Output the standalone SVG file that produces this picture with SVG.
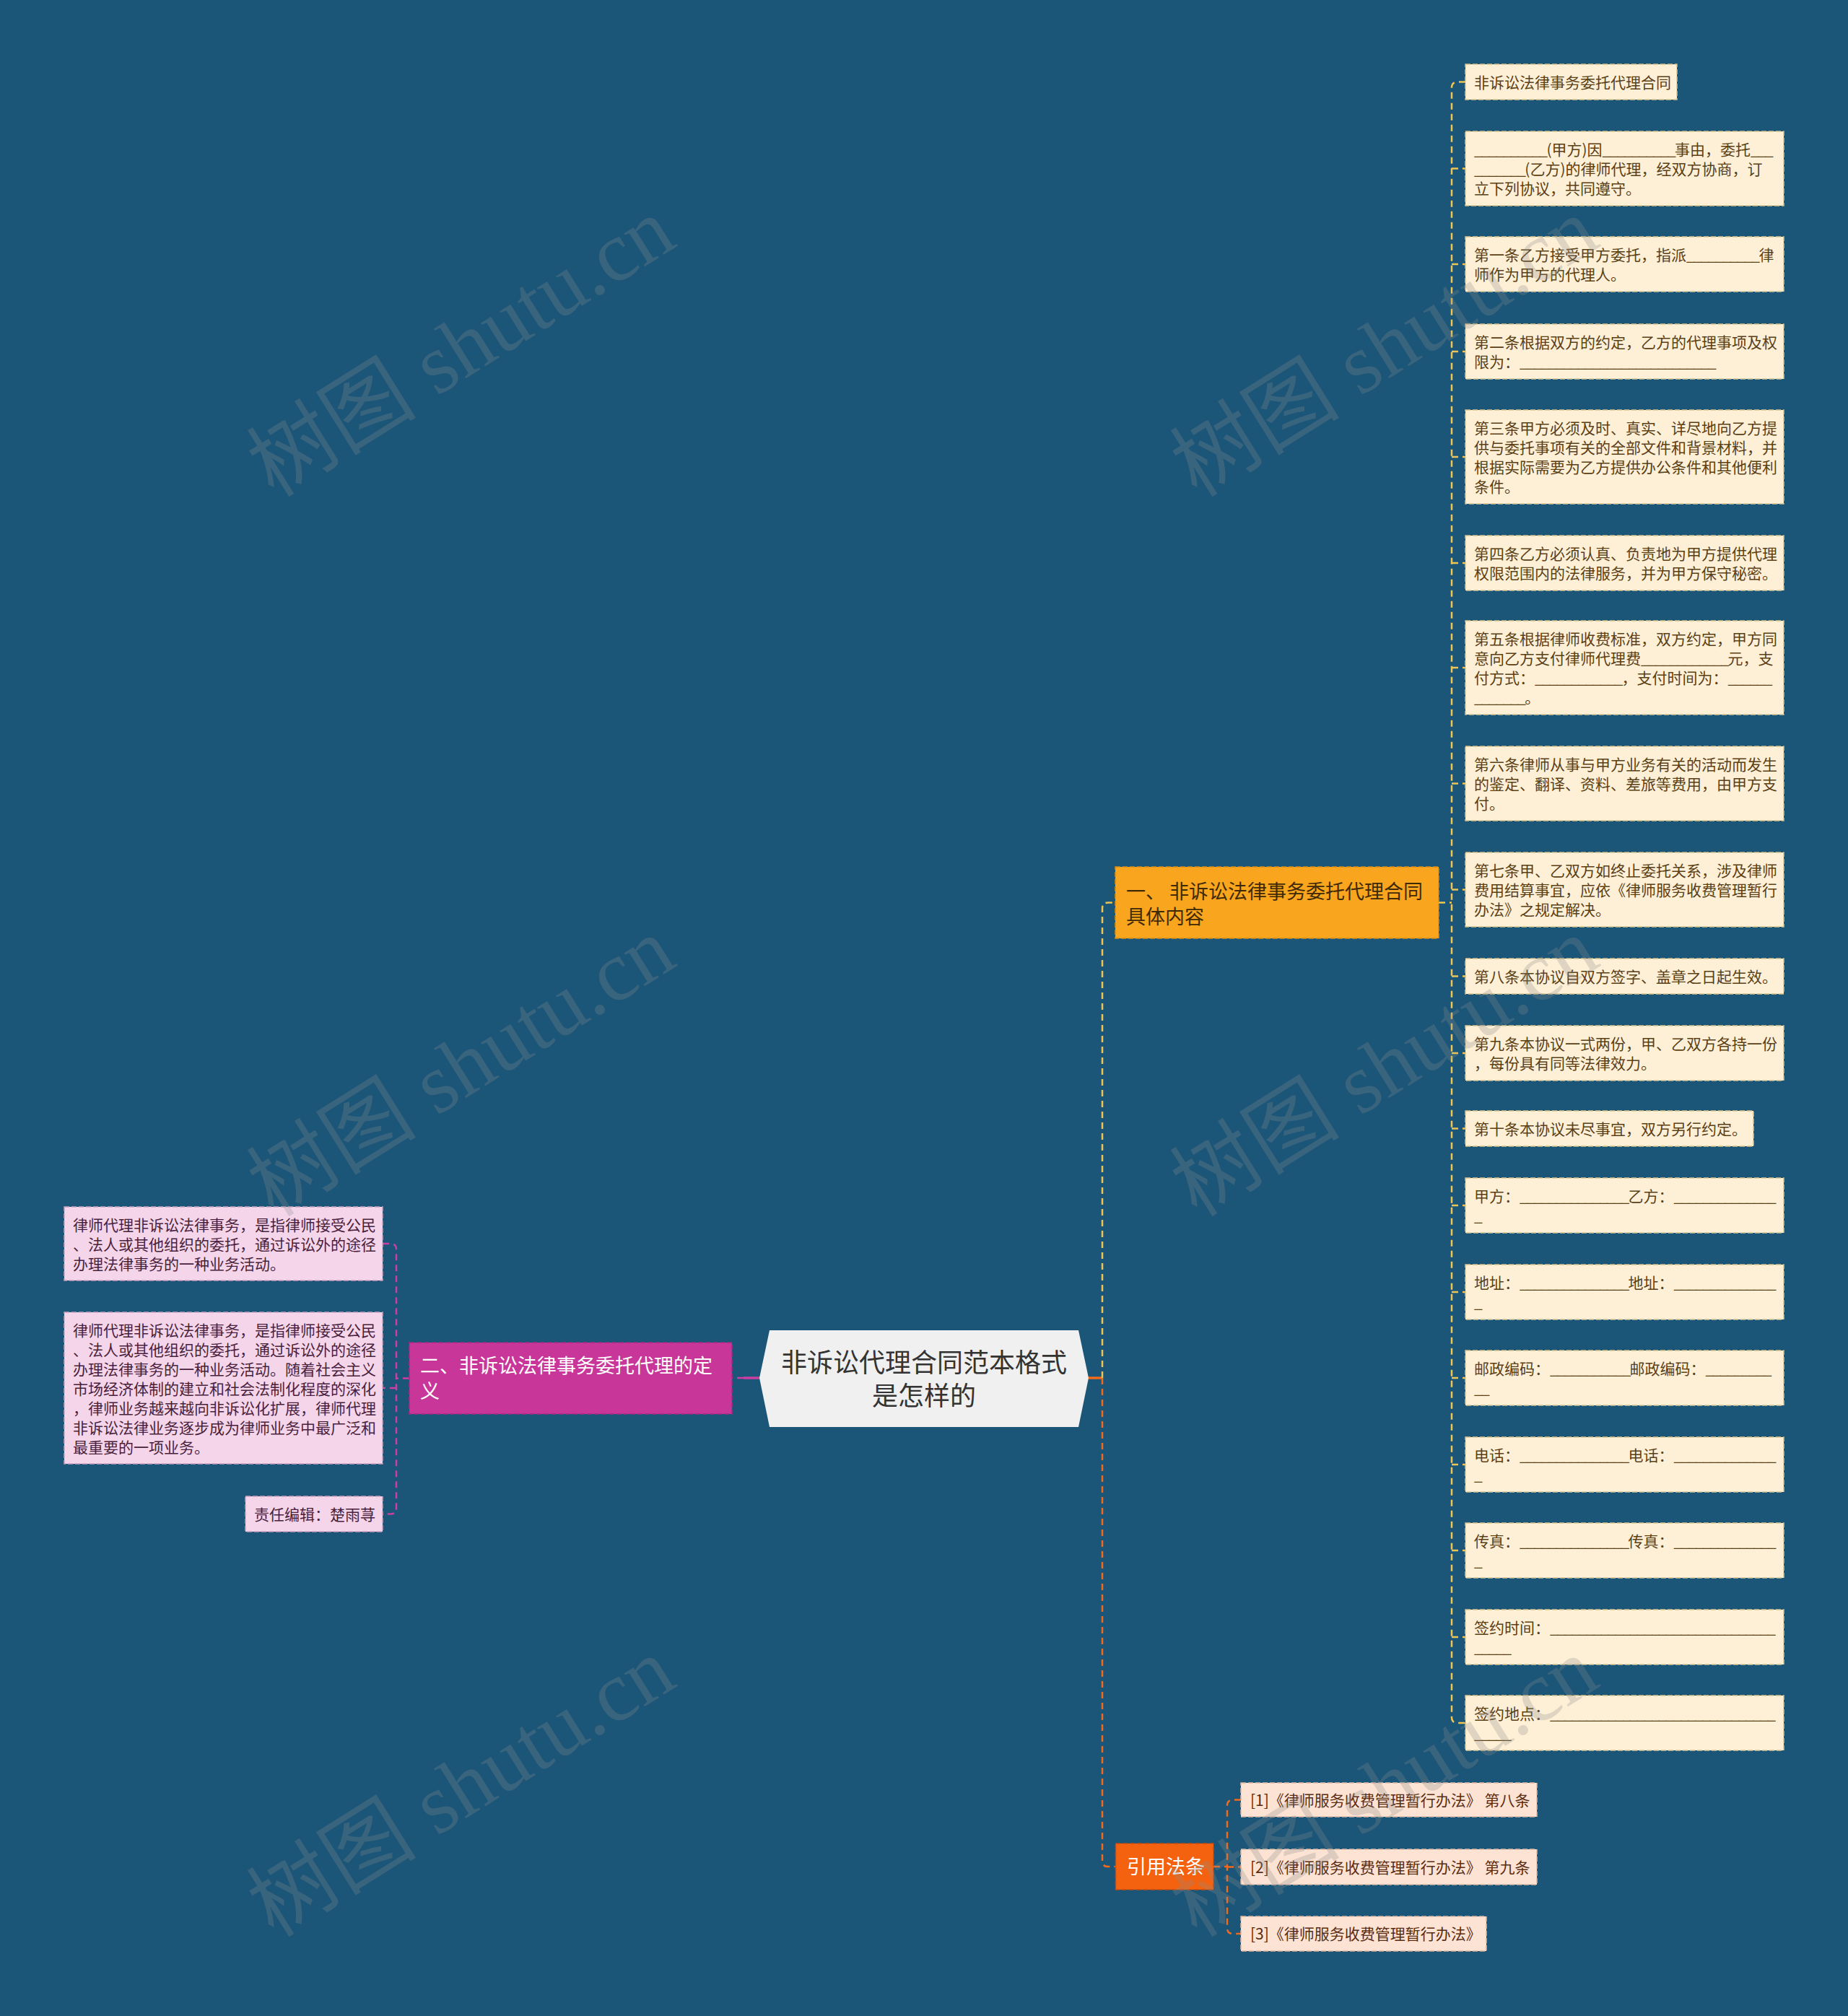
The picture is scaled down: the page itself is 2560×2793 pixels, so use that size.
<svg xmlns="http://www.w3.org/2000/svg" width="2560" height="2793" viewBox="0 0 2560 2793">
<style>
text{font-family:"Noto Sans CJK SC","Noto Sans",sans-serif}
.ly rect{fill:#fdf0d6;stroke:#d8c390;stroke-width:1.5;stroke-dasharray:7 3}
.ly text{font-size:21px;fill:#5b4016}
.lp rect{fill:#f5d5ea;stroke:#c9a1bf;stroke-width:1.5;stroke-dasharray:7 3}
.lp text{font-size:21px;fill:#4a1f3c}
.lo rect{fill:#fde3d3;stroke:#e0b7a0;stroke-width:1.5;stroke-dasharray:7 3}
.lo text{font-size:21px;fill:#5a2c12}
.u{letter-spacing:-1.7px}
.conn path{fill:none;stroke-width:2.5;stroke-dasharray:9 6}
.cg{stroke:#eec552}
.co{stroke:#f26a1b}
.cm{stroke:#cc3ea2}
.solid{stroke-dasharray:none !important;stroke-width:3.5 !important}
.wm{font-family:"Liberation Serif","Noto Sans CJK SC",serif;font-size:118px;fill:#8c8c8c;opacity:0.27}
</style>
<rect width="2560" height="2793" fill="#1b5578"/>

<g id="connectors" class="conn">
  <path class="co solid" d="M1508,1909 H1527"/>
  <path class="cg" d="M1527,1909 V1258.5 Q1527,1250.5 1535,1250.5 H1545"/>
  <path class="co" d="M1527,1909 V2578 Q1527,2586 1535,2586 H1545"/>
  <path class="cg" d="M1993,1250.5 H2011"/>
  <path class="cg" d="M2030,113.5 H2019 Q2011,113.5 2011,121.5 V2379 Q2011,2387 2019,2387 H2030"/>
  <path class="cg" d="M2011,233.5 H2030 M2011,366 H2030 M2011,487 H2030 M2011,633 H2030 M2011,780 H2030 M2011,925 H2030 M2011,1085.5 H2030 M2011,1232.5 H2030 M2011,1352.5 H2030 M2011,1459 H2030 M2011,1563.5 H2030 M2011,1670 H2030 M2011,1790 H2030 M2011,1909 H2030 M2011,2029 H2030 M2011,2148 H2030 M2011,2268 H2030"/>
  <path class="co" d="M1681,2586 H1700"/>
  <path class="co" d="M1719,2493.5 H1708 Q1700,2493.5 1700,2501.5 V2671 Q1700,2679 1708,2679 H1719 M1700,2586.5 H1719"/>
  <path class="cm solid" d="M1052,1909 H1030"/>
  <path class="cm" d="M1030,1909 H1014"/>
  <path class="cm" d="M567,1909.5 H549"/>
  <path class="cm" d="M530,1723 H541 Q549,1723 549,1731 V2089.5 Q549,2097.5 541,2097.5 H530 M549,1923 H530"/>
</g>

<g id="n-root">
  <polygon points="1052,1909 1066,1843 1494,1843 1508,1909 1494,1977 1066,1977" fill="#f0f0f0"/>
  <text text-anchor="middle" font-size="36" fill="#333333"><tspan x="1280" y="1900.7">非诉讼代理合同范本格式</tspan><tspan x="1280" y="1946.7">是怎样的</tspan></text>
</g>

<g id="n-b1">
  <rect x="1545" y="1201" width="448" height="99" fill="#f9a51d" stroke="#d98c14" stroke-width="1.5" stroke-dasharray="7 3"/>
  <text font-size="27" fill="#3f2a05"><tspan x="1560" y="1245">一、 非诉讼法律事务委托代理合同</tspan><tspan x="1560" y="1280">具体内容</tspan></text>
</g>

<g id="n-b2">
  <rect x="567" y="1860" width="447" height="99" fill="#c8369a" stroke="#a52a80" stroke-width="1.5" stroke-dasharray="7 3"/>
  <text font-size="27" fill="#ffffff"><tspan x="582" y="1902">二、非诉讼法律事务委托代理的定</tspan><tspan x="582" y="1937">义</tspan></text>
</g>

<g id="n-b3">
  <rect x="1545.5" y="2554" width="135.5" height="64" fill="#f5620f" stroke="#c84a0c" stroke-width="1.5" stroke-dasharray="7 3"/>
  <text x="1561" y="2596" font-size="27" fill="#ffffff">引用法条</text>
</g>

<g id="n-r1" class="ly"><rect x="2030" y="89" width="293" height="49"/><text><tspan x="2042" y="121.5">非诉讼法律事务委托代理合同</tspan></text></g>
<g id="n-r2" class="ly"><rect x="2030" y="182" width="441" height="103"/><text><tspan x="2042" y="214.5"><tspan class="u">__________</tspan>(甲方)因<tspan class="u">__________</tspan>事由，委托<tspan class="u">___</tspan></tspan><tspan x="2042" y="241.5"><tspan class="u">_______</tspan>(乙方)的律师代理，经双方协商，订</tspan><tspan x="2042" y="268.5">立下列协议，共同遵守。</tspan></text></g>
<g id="n-r3" class="ly"><rect x="2030" y="328" width="441" height="76"/><text><tspan x="2042" y="360.5">第一条乙方接受甲方委托，指派<tspan class="u">__________</tspan>律</tspan><tspan x="2042" y="387.5">师作为甲方的代理人。</tspan></text></g>
<g id="n-r4" class="ly"><rect x="2030" y="449" width="441" height="76"/><text><tspan x="2042" y="481.5">第二条根据双方的约定，乙方的代理事项及权</tspan><tspan x="2042" y="508.5">限为：<tspan class="u">___________________________</tspan></tspan></text></g>
<g id="n-r5" class="ly"><rect x="2030" y="568" width="441" height="130"/><text><tspan x="2042" y="600.5">第三条甲方必须及时、真实、详尽地向乙方提</tspan><tspan x="2042" y="627.5">供与委托事项有关的全部文件和背景材料，并</tspan><tspan x="2042" y="654.5">根据实际需要为乙方提供办公条件和其他便利</tspan><tspan x="2042" y="681.5">条件。</tspan></text></g>
<g id="n-r6" class="ly"><rect x="2030" y="742" width="441" height="76"/><text><tspan x="2042" y="774.5">第四条乙方必须认真、负责地为甲方提供代理</tspan><tspan x="2042" y="801.5">权限范围内的法律服务，并为甲方保守秘密。</tspan></text></g>
<g id="n-r7" class="ly"><rect x="2030" y="860" width="441" height="130"/><text><tspan x="2042" y="892.5">第五条根据律师收费标准，双方约定，甲方同</tspan><tspan x="2042" y="919.5">意向乙方支付律师代理费<tspan class="u">____________</tspan>元，支</tspan><tspan x="2042" y="946.5">付方式：<tspan class="u">____________</tspan>，支付时间为：<tspan class="u">______</tspan></tspan><tspan x="2042" y="973.5"><tspan class="u">_______</tspan>。</tspan></text></g>
<g id="n-r8" class="ly"><rect x="2030" y="1034" width="441" height="103"/><text><tspan x="2042" y="1066.5">第六条律师从事与甲方业务有关的活动而发生</tspan><tspan x="2042" y="1093.5">的鉴定、翻译、资料、差旅等费用，由甲方支</tspan><tspan x="2042" y="1120.5">付。</tspan></text></g>
<g id="n-r9" class="ly"><rect x="2030" y="1181" width="441" height="103"/><text><tspan x="2042" y="1213.5">第七条甲、乙双方如终止委托关系，涉及律师</tspan><tspan x="2042" y="1240.5">费用结算事宜，应依《律师服务收费管理暂行</tspan><tspan x="2042" y="1267.5">办法》之规定解决。</tspan></text></g>
<g id="n-r10" class="ly"><rect x="2030" y="1328" width="441" height="49"/><text><tspan x="2042" y="1360.5">第八条本协议自双方签字、盖章之日起生效。</tspan></text></g>
<g id="n-r11" class="ly"><rect x="2030" y="1421" width="441" height="76"/><text><tspan x="2042" y="1453.5">第九条本协议一式两份，甲、乙双方各持一份</tspan><tspan x="2042" y="1480.5">，每份具有同等法律效力。</tspan></text></g>
<g id="n-r12" class="ly"><rect x="2030" y="1539" width="399" height="49"/><text><tspan x="2042" y="1571.5">第十条本协议未尽事宜，双方另行约定。</tspan></text></g>
<g id="n-r13" class="ly"><rect x="2030" y="1632" width="441" height="76"/><text><tspan x="2042" y="1664.5">甲方：<tspan class="u">_______________</tspan>乙方：<tspan class="u">______________</tspan></tspan><tspan x="2042" y="1691.5">_</tspan></text></g>
<g id="n-r14" class="ly"><rect x="2030" y="1752" width="441" height="76"/><text><tspan x="2042" y="1784.5">地址：<tspan class="u">_______________</tspan>地址：<tspan class="u">______________</tspan></tspan><tspan x="2042" y="1811.5">_</tspan></text></g>
<g id="n-r15" class="ly"><rect x="2030" y="1871" width="441" height="76"/><text><tspan x="2042" y="1903.5">邮政编码：<tspan class="u">___________</tspan>邮政编码：<tspan class="u">_________</tspan></tspan><tspan x="2042" y="1930.5"><tspan class="u">__</tspan></tspan></text></g>
<g id="n-r16" class="ly"><rect x="2030" y="1991" width="441" height="76"/><text><tspan x="2042" y="2023.5">电话：<tspan class="u">_______________</tspan>电话：<tspan class="u">______________</tspan></tspan><tspan x="2042" y="2050.5">_</tspan></text></g>
<g id="n-r17" class="ly"><rect x="2030" y="2110" width="441" height="76"/><text><tspan x="2042" y="2142.5">传真：<tspan class="u">_______________</tspan>传真：<tspan class="u">______________</tspan></tspan><tspan x="2042" y="2169.5">_</tspan></text></g>
<g id="n-r18" class="ly"><rect x="2030" y="2230" width="441" height="76"/><text><tspan x="2042" y="2262.5">签约时间：<tspan class="u">_______________________________</tspan></tspan><tspan x="2042" y="2289.5"><tspan class="u">_____</tspan></tspan></text></g>
<g id="n-r19" class="ly"><rect x="2030" y="2349" width="441" height="76"/><text><tspan x="2042" y="2381.5">签约地点：<tspan class="u">_______________________________</tspan></tspan><tspan x="2042" y="2408.5"><tspan class="u">_____</tspan></tspan></text></g>

<g id="n-c1" class="lo"><rect x="1719" y="2470" width="410" height="47"/><text x="1732" y="2501.5">[1]《律师服务收费管理暂行办法》 第八条</text></g>
<g id="n-c2" class="lo"><rect x="1719" y="2562" width="410" height="49"/><text x="1732" y="2594.5">[2]《律师服务收费管理暂行办法》 第九条</text></g>
<g id="n-c3" class="lo"><rect x="1719" y="2655" width="340" height="48"/><text x="1732" y="2687">[3]《律师服务收费管理暂行办法》</text></g>

<g id="n-l1" class="lp"><rect x="89" y="1672" width="441" height="102"/><text><tspan x="101" y="1704.5">律师代理非诉讼法律事务，是指律师接受公民</tspan><tspan x="101" y="1731.5">、法人或其他组织的委托，通过诉讼外的途径</tspan><tspan x="101" y="1758.5">办理法律事务的一种业务活动。</tspan></text></g>
<g id="n-l2" class="lp"><rect x="89" y="1818" width="441" height="210"/><text><tspan x="101" y="1850.5">律师代理非诉讼法律事务，是指律师接受公民</tspan><tspan x="101" y="1877.5">、法人或其他组织的委托，通过诉讼外的途径</tspan><tspan x="101" y="1904.5">办理法律事务的一种业务活动。随着社会主义</tspan><tspan x="101" y="1931.5">市场经济体制的建立和社会法制化程度的深化</tspan><tspan x="101" y="1958.5">，律师业务越来越向非诉讼化扩展，律师代理</tspan><tspan x="101" y="1985.5">非诉讼法律业务逐步成为律师业务中最广泛和</tspan><tspan x="101" y="2012.5">最重要的一项业务。</tspan></text></g>
<g id="n-l3" class="lp"><rect x="340" y="2073" width="190" height="49"/><text x="352" y="2105.5">责任编辑：楚雨荨</text></g>

<g id="watermarks">
  <text class="wm" transform="translate(660,515) rotate(-32)" text-anchor="middle">树图 shutu.cn</text>
  <text class="wm" transform="translate(1939,515) rotate(-32)" text-anchor="middle">树图 shutu.cn</text>
  <text class="wm" transform="translate(660,1512) rotate(-32)" text-anchor="middle">树图 shutu.cn</text>
  <text class="wm" transform="translate(1939,1512) rotate(-32)" text-anchor="middle">树图 shutu.cn</text>
  <text class="wm" transform="translate(660,2510) rotate(-32)" text-anchor="middle">树图 shutu.cn</text>
  <text class="wm" transform="translate(1939,2510) rotate(-32)" text-anchor="middle">树图 shutu.cn</text>
</g>
</svg>
